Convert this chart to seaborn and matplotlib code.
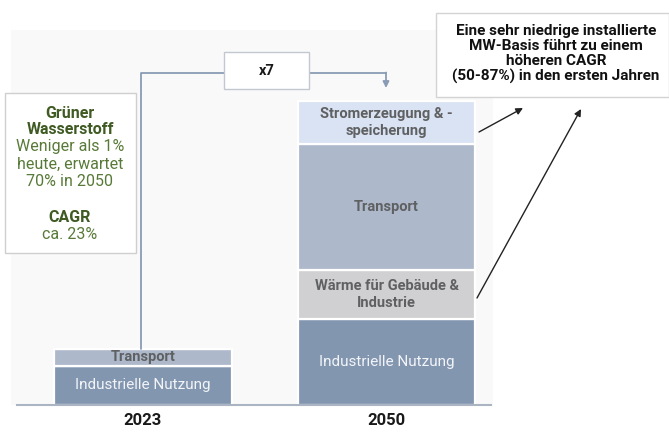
import numpy as np
import pandas as pd
import matplotlib
matplotlib.use("Agg")
import matplotlib.pyplot as plt
from matplotlib.patches import Rectangle
import seaborn as sns

# ── Data ──────────────────────────────────────────────────────────────────────
years = ["2023", "2050"]
segments = ["Industrielle Nutzung", "Wärme für Gebäude & Industrie",
            "Transport", "Stromerzeugung & -speicherung"]
industrie = [39, 86]
waerme = [0, 49]
transport = [17, 126]
strom = [0, 43]
seg_labels = ["Industrielle Nutzung", "Wärme für Gebäude &\nIndustrie",
              "Transport", "Stromerzeugung & -\nspeicherung"]
seg_colors = ["#8396b0", "#d0d0d2", "#adb9cb", "#dae3f3"]
growth_label = "x7"
left_note = ["Grüner", "Wasserstoff", "Weniger als 1%", "heute, erwartet",
             "70% in 2050", "", "CAGR", "ca. 23%"]
right_note = ("Eine sehr niedrige installierte\nMW-Basis führt zu einem\n"
              "höheren CAGR\n(50-87%) in den ersten Jahren")

sns.set_style("white")
plt.rcParams["font.family"] = ["Roboto", "DejaVu Sans"]

W, H = 669, 433
fig = plt.figure(figsize=(W / 100, H / 100), dpi=100)


def fx(x, y):
    """pixel (from top-left) -> figure fraction"""
    return (x / W, 1 - y / H)


# light background panel
fig.add_artist(Rectangle(fx(11, 405), (493 - 11) / W, (405 - 30) / H,
                         transform=fig.transFigure, fc="#f9f9f9", ec="none",
                         zorder=0))

ax = fig.add_axes([17 / W, (H - 405) / H, (491 - 17) / W, 375 / H])
ax.set_facecolor("none")

df = pd.DataFrame({"year": years, "ind": industrie, "wae": waerme,
                   "tra": transport, "str": strom})
cols = ["ind", "wae", "tra", "str"]
bottom = np.zeros(len(years))
for col, color, lab in zip(cols, seg_colors, seg_labels):
    vals = df[col].to_numpy()
    sns.barplot(data=df, x="year", y=col, bottom=bottom, color=color,
                width=0.73, edgecolor="white", linewidth=1.6,
                errorbar=None, saturation=1, ax=ax)
    for i, v in enumerate(vals):
        if v <= 0:
            continue
        yc = bottom[i] + v / 2
        if col == "ind":
            ax.text(i, yc, lab, ha="center", va="center", fontsize=11,
                    color="#f2f4f8")
        else:
            ax.text(i, yc, lab, ha="center", va="center", fontsize=10.5,
                    fontweight="bold", color="#5f6062", linespacing=1.2)
    bottom = bottom + vals

ax.set_xlim(-0.517, 1.429)
ax.set_ylim(0, 375)
ax.set_xlabel("")
ax.set_ylabel("")
ax.set_yticks([])
ax.tick_params(axis="x", length=0, pad=6)
ax.set_xticks(range(len(years)))
ax.set_xticklabels(years, fontsize=12, fontweight="bold", color="#1a1a1a")
for s in ["top", "right", "left"]:
    ax.spines[s].set_visible(False)
ax.spines["bottom"].set_color("#aab4c3")
ax.spines["bottom"].set_linewidth(1.5)

# growth connector
line_c = "#8a9bb5"
fig.add_artist(plt.Line2D([141 / W, 141 / W, 386 / W],
                          [1 - 349 / H, 1 - 73 / H, 1 - 73 / H],
                          transform=fig.transFigure, color=line_c, lw=1.3,
                          zorder=1))
ax.annotate("", xy=fx(386, 88), xycoords="figure fraction",
            xytext=fx(386, 72.5), textcoords="figure fraction",
            arrowprops=dict(arrowstyle="-|>", color=line_c, lw=1.3,
                            mutation_scale=9, shrinkA=0, shrinkB=0))
fig.add_artist(Rectangle(fx(224, 89), 85 / W, 37 / H,
                         transform=fig.transFigure, fc="white", ec="#c3c7cf",
                         lw=1, zorder=2))
fig.text(*fx(266.5, 71), growth_label, ha="center", va="center",
         fontsize=10.5, fontweight="bold", color="#1a1a1a", zorder=3)

# left note box
fig.add_artist(Rectangle(fx(5, 253), 131 / W, 160 / H,
                         transform=fig.transFigure, fc="white", ec="#cfcfcf",
                         lw=1, zorder=2))
ys = [113, 130, 147, 164, 181, 199, 217, 234]
for txt, y in zip(left_note, ys):
    bold = txt in ("Grüner", "Wasserstoff", "CAGR")
    fig.text(*fx(70, y), txt, ha="center", va="center", fontsize=11.5,
             fontweight="bold" if bold else "normal",
             color="#3f5a22" if bold else "#587a38", zorder=3)

# right note box
fig.add_artist(Rectangle(fx(436, 97), (W - 436) / W, 84 / H,
                         transform=fig.transFigure, fc="white", ec="#d3d3d3",
                         lw=1, zorder=2))
fig.text(*fx(556, 54), right_note, ha="center", va="center", fontsize=11,
         fontweight="bold", color="#111111", linespacing=1.1, zorder=3)

# pointer arrows
for start, end in [((479, 132), (523, 108)), ((477, 298), (581, 109))]:
    ax.annotate("", xy=fx(*end), xycoords="figure fraction",
                xytext=fx(*start), textcoords="figure fraction",
                arrowprops=dict(arrowstyle="-|>", color="#222222", lw=1,
                                mutation_scale=10, shrinkA=0, shrinkB=0))

fig.savefig("out.png", dpi=100)
